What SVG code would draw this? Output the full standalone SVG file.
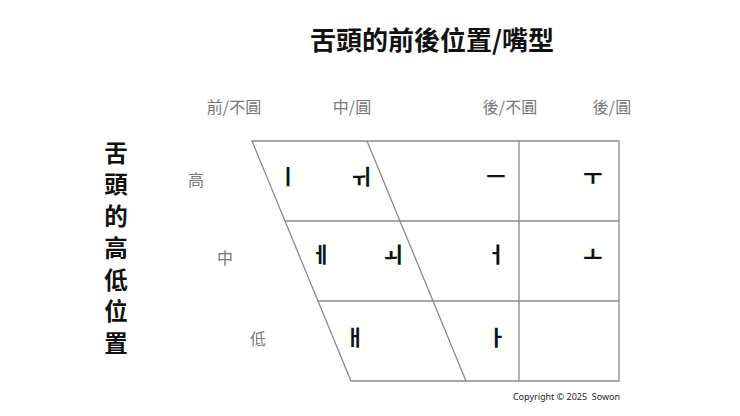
<svg xmlns="http://www.w3.org/2000/svg" width="740" height="416" viewBox="0 0 740 416">
<style>
.t{font-family:"Noto Sans CJK TC","Noto Sans CJK KR",sans-serif;font-weight:bold;fill:#111;}
.lab{font-family:"Noto Sans CJK TC",sans-serif;font-size:16px;fill:#777;text-anchor:middle;}
.v{font-family:"Noto Sans CJK KR",sans-serif;font-size:21px;fill:#111;text-anchor:middle;font-weight:bold;}
.ln{stroke:#8a8a8a;stroke-width:1.3;fill:none;}
</style>
<rect width="740" height="416" fill="#fff"/>
<text class="t" x="432" y="50" font-size="26" text-anchor="middle">舌頭的前後位置/嘴型</text>
<g id="vtitle">
<text class="t" font-size="23.5" text-anchor="middle"><tspan x="116" y="161.5">舌</tspan><tspan x="116" y="193.3">頭</tspan><tspan x="116" y="225">的</tspan><tspan x="116" y="256.8">高</tspan><tspan x="116" y="288.5">低</tspan><tspan x="116" y="320.3">位</tspan><tspan x="116" y="352">置</tspan></text>
</g>
<g id="collabels">
<text class="lab" x="234" y="113">前/不圓</text>
<text class="lab" x="352" y="113">中/圓</text>
<text class="lab" x="510" y="113">後/不圓</text>
<text class="lab" x="612" y="113">後/圓</text>
</g>
<g id="rowlabels">
<text class="lab" x="196" y="186">高</text>
<text class="lab" x="225" y="264">中</text>
<text class="lab" x="258" y="345">低</text>
</g>
<g id="grid">
<polygon class="ln" points="252,141 619,141 619,381 351,381"/>
<line class="ln" x1="367" y1="141" x2="466" y2="381"/>
<line class="ln" x1="519" y1="141" x2="519" y2="381"/>
<line class="ln" x1="285" y1="221" x2="619" y2="221"/>
<line class="ln" x1="318" y1="301" x2="619" y2="301"/>
</g>
<g id="vowels">
<text class="v" x="288" y="184">ㅣ</text>
<text class="v" x="361" y="184">ㅟ</text>
<text class="v" x="496" y="184">ㅡ</text>
<text class="v" x="593" y="184">ㅜ</text>
<text class="v" x="321" y="262">ㅔ</text>
<text class="v" x="393" y="262">ㅚ</text>
<text class="v" x="496" y="262">ㅓ</text>
<text class="v" x="593" y="262">ㅗ</text>
<text class="v" x="355" y="345">ㅐ</text>
<text class="v" x="497" y="345">ㅏ</text>
</g>
<text x="566.5" y="399.5" font-family="'Noto Sans',sans-serif" font-size="9" fill="#222" text-anchor="middle" xml:space="preserve">Copyright © 2025  Sowon</text>
</svg>
